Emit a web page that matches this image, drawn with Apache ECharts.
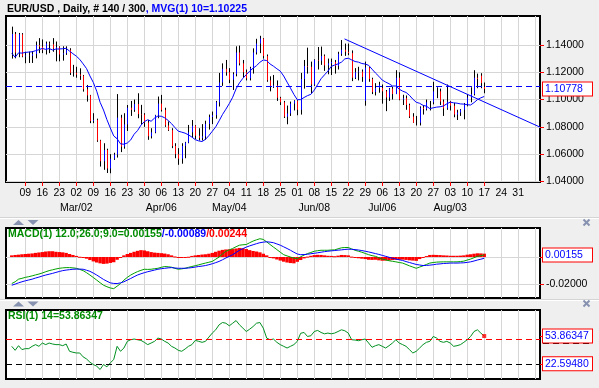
<!DOCTYPE html>
<html><head><meta charset="utf-8">
<script src="https://cdn.jsdelivr.net/npm/echarts@6/dist/echarts.min.js"></script>
<style>html,body{margin:0;padding:0;background:#efefef;}#c{width:599px;height:388px;}</style>
</head><body><div id="c"></div>
<script>
// ---- data (trading-day index 0 = Tue 03 Feb 2015) ----
const open = [1.1344,1.1481,1.1344,1.1478,1.1316,1.1323,1.1321,1.1333,1.1399,1.1388,
1.1362,1.1410,1.1405,1.1374,1.1383,1.1330,1.1339,1.1364,1.1195,1.1196,
1.1183,1.1174,1.1075,1.1030,1.0843,1.0851,1.0700,1.0548,1.0630,1.0495,
1.0567,1.0597,1.0867,1.0655,1.0818,1.0940,1.0924,1.0967,1.0893,1.0890,
1.0832,1.0731,1.0760,1.0885,1.0970,1.0924,1.0810,1.0776,1.0660,1.0600,
1.0567,1.0660,1.0685,1.0760,1.0808,1.0735,1.0720,1.0730,1.0822,1.0872,
1.0885,1.0980,1.1125,1.1225,1.1200,1.1145,1.1186,1.1345,1.1265,1.1200,
1.1155,1.1230,1.1345,1.1410,1.1447,1.1318,1.1141,1.1092,1.1104,1.1013,
1.0980,1.0874,1.0898,1.0970,1.0990,1.0925,1.1150,1.1245,1.1240,1.1110,
1.1290,1.1285,1.1320,1.1250,1.1265,1.1275,1.1245,1.1335,1.1365,1.1350,
1.1340,1.1160,1.1200,1.1205,1.0990,1.1235,1.1150,1.1055,1.1085,1.1085,
1.1060,1.1015,1.1080,1.1040,1.1160,1.1000,1.1010,1.0960,1.0875,1.0830,
1.0830,1.0940,1.0930,1.0980,1.0980,1.1060,1.1060,1.0985,1.0935,1.0985,
1.0955,1.0890,1.0905,1.0925,1.0965,1.1015,1.1040,1.1160,1.1175,1.1092];
const high = [1.1534,1.1495,1.1488,1.1487,1.1350,1.1350,1.1355,1.1425,1.1450,1.1440,
1.1425,1.1425,1.1450,1.1425,1.1390,1.1390,1.1390,1.1376,1.1254,1.1240,
1.1229,1.1180,1.1107,1.1034,1.0900,1.0860,1.0705,1.0680,1.0640,1.0600,
1.0610,1.1040,1.0888,1.0900,1.0960,1.0990,1.1000,1.1046,1.0961,1.0900,
1.0851,1.0790,1.0888,1.1022,1.1034,1.0940,1.0840,1.0790,1.0680,1.0644,
1.0680,1.0690,1.0814,1.0850,1.0812,1.0790,1.0820,1.0845,1.0890,1.0912,
1.0990,1.1195,1.1265,1.1290,1.1230,1.1200,1.1390,1.1395,1.1290,1.1220,
1.1240,1.1375,1.1445,1.1467,1.1450,1.1330,1.1170,1.1180,1.1140,1.1020,
1.0990,1.0956,1.0985,1.0995,1.0995,1.1195,1.1290,1.1380,1.1278,1.1295,
1.1385,1.1388,1.1330,1.1300,1.1300,1.1290,1.1350,1.1436,1.1410,1.1410,
1.1360,1.1230,1.1240,1.1220,1.1278,1.1240,1.1160,1.1120,1.1130,1.1110,
1.1070,1.1085,1.1095,1.1215,1.1200,1.1035,1.1030,1.0970,1.0900,1.0880,
1.0950,1.0960,1.1000,1.0990,1.1130,1.1090,1.1080,1.1000,1.1110,1.0990,
1.0975,1.0925,1.0930,1.0975,1.1040,1.1090,1.1215,1.1190,1.1193,1.1125];
const low = [1.1300,1.1302,1.1310,1.1310,1.1266,1.1268,1.1268,1.1302,1.1340,1.1340,
1.1330,1.1340,1.1350,1.1280,1.1280,1.1285,1.1327,1.1180,1.1168,1.1160,
1.1144,1.1058,1.0985,1.0827,1.0827,1.0690,1.0509,1.0485,1.0462,1.0460,
1.0558,1.0575,1.0615,1.0640,1.0770,1.0880,1.0910,1.0863,1.0814,1.0800,
1.0705,1.0715,1.0753,1.0863,1.0912,1.0800,1.0770,1.0644,1.0570,1.0522,
1.0530,1.0570,1.0680,1.0720,1.0710,1.0700,1.0700,1.0705,1.0780,1.0820,
1.0860,1.0949,1.1100,1.1175,1.1120,1.1070,1.1170,1.1250,1.1160,1.1140,
1.1140,1.1190,1.1330,1.1340,1.1300,1.1130,1.1060,1.1085,1.0990,1.0960,
1.0865,1.0819,1.0880,1.0920,1.0885,1.0890,1.1080,1.1190,1.1046,1.1100,
1.1220,1.1254,1.1210,1.1185,1.1180,1.1190,1.1220,1.1320,1.1320,1.1325,
1.1135,1.1150,1.1140,1.1130,1.0955,1.1130,1.1040,1.1030,1.1050,1.0970,
1.0915,1.0990,1.1000,1.1040,1.0995,1.0960,1.0925,1.0865,1.0830,1.0810,
1.0810,1.0890,1.0920,1.0920,1.0965,1.1010,1.0960,1.0880,1.0925,1.0920,
1.0870,1.0850,1.0880,1.0855,1.0950,1.0980,1.1030,1.1083,1.1083,1.1046];
const close = [1.1481,1.1344,1.1478,1.1316,1.1323,1.1321,1.1333,1.1399,1.1388,1.1362,
1.1410,1.1405,1.1374,1.1383,1.1330,1.1339,1.1364,1.1195,1.1196,1.1183,
1.1174,1.1075,1.1030,1.0843,1.0851,1.0700,1.0548,1.0630,1.0495,1.0567,
1.0597,1.0867,1.0655,1.0818,1.0940,1.0924,1.0967,1.0893,1.0890,1.0832,
1.0731,1.0760,1.0885,1.0970,1.0924,1.0810,1.0776,1.0660,1.0600,1.0567,
1.0660,1.0685,1.0760,1.0808,1.0735,1.0720,1.0730,1.0822,1.0872,1.0885,
1.0980,1.1125,1.1225,1.1200,1.1145,1.1186,1.1345,1.1265,1.1200,1.1155,
1.1230,1.1345,1.1410,1.1447,1.1318,1.1141,1.1092,1.1104,1.1013,1.0980,
1.0874,1.0898,1.0970,1.0990,1.0925,1.1150,1.1245,1.1240,1.1110,1.1290,
1.1285,1.1320,1.1250,1.1265,1.1275,1.1245,1.1335,1.1365,1.1350,1.1340,
1.1160,1.1200,1.1205,1.1165,1.1235,1.1150,1.1055,1.1085,1.1110,1.1060,
1.1015,1.1080,1.1040,1.1160,1.1000,1.1010,1.0960,1.0875,1.0830,1.0830,
1.0940,1.0930,1.0980,1.0980,1.1060,1.1060,1.0985,1.0935,1.0985,1.0955,
1.0890,1.0905,1.0925,1.0965,1.1015,1.1040,1.1160,1.1150,1.1120,1.10778];
const mvg10 = [1.1339,1.1310,1.1342,1.1340,1.1345,1.1348,1.1350,1.1358,1.1365,1.13745,
1.13674,1.13735,1.13631,1.13698,1.13705,1.13723,1.13754,1.1355,1.13358,1.13179,
1.12943,1.12613,1.12269,1.11729,1.1125,1.10611,1.09795,1.0923,1.08529,1.07913,
1.07336,1.07128,1.06753,1.06728,1.06817,1.07041,1.0746,1.07723,1.08118,1.08383,
1.08517,1.0841,1.0864,1.08792,1.08776,1.08662,1.08471,1.08238,1.07948,1.07683,
1.07612,1.07537,1.07412,1.0725,1.07061,1.06971,1.06925,1.07087,1.07359,1.07677,
1.07997,1.08437,1.08902,1.09294,1.09704,1.1017,1.10785,1.11228,1.11556,1.11826,
1.12076,1.12296,1.12481,1.12728,1.12901,1.12856,1.12603,1.12442,1.12255,1.1208,
1.11724,1.11277,1.10837,1.1038,1.09987,1.09996,1.10149,1.10285,1.10382,1.10692,
1.11103,1.11525,1.11805,1.1208,1.1243,1.12525,1.12615,1.1274,1.1298,1.1303,
1.12905,1.12785,1.1274,1.1264,1.126,1.12505,1.12225,1.11945,1.11705,1.11425,
1.1128,1.1116,1.10995,1.1099,1.10755,1.10615,1.1052,1.1031,1.1003,1.098,
1.09725,1.09575,1.09515,1.09335,1.09395,1.09445,1.0947,1.0953,1.09685,1.0981,
1.0976,1.09735,1.0968,1.09665,1.0962,1.096,1.09775,1.0999,1.10125,1.10225];
const macd = [-0.0193,-0.0180,-0.0161,-0.0155,-0.0148,-0.0143,-0.0137,-0.0130,-0.0124,-0.0116,
-0.0107,-0.0099,-0.0093,-0.0087,-0.0082,-0.0079,-0.0077,-0.0077,-0.0079,-0.0082,
-0.0090,-0.0099,-0.0114,-0.0131,-0.0149,-0.0168,-0.0187,-0.0205,-0.0216,-0.0225,
-0.0230,-0.0212,-0.0193,-0.0168,-0.0148,-0.0131,-0.0118,-0.0106,-0.0097,-0.0089,
-0.0090,-0.0089,-0.0085,-0.0082,-0.0075,-0.0069,-0.0071,-0.0074,-0.0082,-0.0089,
-0.0086,-0.0082,-0.0075,-0.0069,-0.0063,-0.0057,-0.0050,-0.0044,-0.0038,-0.0032,
-0.0016,0.0000,0.0022,0.0042,0.0052,0.0062,0.0075,0.0086,0.0089,0.0091,
0.0104,0.0116,0.0125,0.0133,0.0128,0.0110,0.0091,0.0072,0.0054,0.0035,
0.0017,0.0008,0.0000,-0.0008,-0.0012,0.0002,0.0014,0.0025,0.0033,0.0042,
0.0046,0.0049,0.0049,0.0049,0.0051,0.0052,0.0060,0.0067,0.0069,0.0069,
0.0059,0.0049,0.0042,0.0035,0.0026,0.0017,0.0010,0.0005,-0.0005,-0.0015,
-0.0021,-0.0027,-0.0031,-0.0035,-0.0040,-0.0044,-0.0054,-0.0064,-0.0073,-0.0082,
-0.0073,-0.0064,-0.0054,-0.0044,-0.0040,-0.0037,-0.0036,-0.0035,-0.0035,-0.0035,
-0.0035,-0.0035,-0.0033,-0.0030,-0.0022,-0.0015,-0.0005,0.0005,0.0010,0.00155];
const signal = [-0.0205,-0.0197,-0.0188,-0.0180,-0.0173,-0.0167,-0.0161,-0.0153,-0.0146,-0.0138,
-0.0131,-0.0125,-0.0119,-0.0112,-0.0105,-0.0099,-0.0095,-0.0092,-0.0089,-0.0088,
-0.0088,-0.0089,-0.0096,-0.0104,-0.0117,-0.0131,-0.0147,-0.0163,-0.0176,-0.0188,
-0.0192,-0.0193,-0.0188,-0.0180,-0.0168,-0.0156,-0.0143,-0.0131,-0.0122,-0.0114,
-0.0107,-0.0101,-0.0095,-0.0089,-0.0085,-0.0082,-0.0079,-0.0077,-0.0080,-0.0082,
-0.0082,-0.0082,-0.0080,-0.0077,-0.0073,-0.0069,-0.0066,-0.0062,-0.0056,-0.0049,
-0.0041,-0.0032,-0.0020,-0.0007,0.0005,0.0017,0.0033,0.0049,0.0061,0.0072,
0.0081,0.0089,0.0097,0.0104,0.0108,0.0111,0.0108,0.0104,0.0095,0.0086,
0.0074,0.0062,0.0049,0.0035,0.0022,0.0017,0.0018,0.0020,0.0024,0.0027,
0.0031,0.0035,0.0039,0.0042,0.0045,0.0047,0.0050,0.0052,0.0055,0.0057,
0.0056,0.0054,0.0051,0.0047,0.0042,0.0037,0.0031,0.0025,0.0019,0.0012,
0.0005,-0.0002,-0.0009,-0.0015,-0.0020,-0.0025,-0.0033,-0.0040,-0.0047,-0.0054,
-0.0058,-0.0062,-0.0061,-0.0059,-0.0056,-0.0052,-0.0050,-0.0047,-0.0046,-0.0044,
-0.0044,-0.0044,-0.0043,-0.0042,-0.0039,-0.0035,-0.0029,-0.0022,-0.0016,-0.00089];
const hist = [0.0012,0.0015,0.0017,0.0020,0.0022,0.0024,0.0026,0.0030,0.0033,0.0036,
0.0040,0.0042,0.0042,0.0038,0.0036,0.0034,0.0030,0.0022,0.0015,0.0008,
0.0002,-0.0004,-0.0012,-0.0022,-0.0032,-0.0040,-0.0046,-0.0050,-0.0048,-0.0043,
-0.0038,-0.0020,-0.0005,0.0012,0.0022,0.0030,0.0038,0.0045,0.0050,0.0048,
0.0042,0.0036,0.0032,0.0030,0.0028,0.0025,0.0020,0.0012,0.0004,-0.0004,
-0.0006,-0.0004,0.0002,0.0008,0.0012,0.0015,0.0018,0.0020,0.0024,0.0030,
0.0038,0.0046,0.0052,0.0055,0.0056,0.0058,0.0062,0.0066,0.0064,0.0058,
0.0050,0.0044,0.0040,0.0034,0.0024,0.0012,-0.0002,-0.0010,-0.0018,-0.0026,
-0.0034,-0.0040,-0.0044,-0.0046,-0.0035,-0.0022,-0.0010,0.0003,0.0009,0.0014,
0.0016,0.0015,0.0012,0.0009,0.0008,0.0006,0.0010,0.0015,0.0014,0.0012,
0.0003,-0.0005,-0.0009,-0.0012,-0.0015,-0.0020,-0.0021,-0.0020,-0.0024,-0.0027,
-0.0026,-0.0025,-0.0022,-0.0020,-0.0020,-0.0019,-0.0021,-0.0024,-0.0026,-0.0028,
-0.0015,-0.0002,0.0007,0.0015,0.0016,0.0015,0.0014,0.0012,0.0011,0.0009,
0.0009,0.0009,0.0010,0.0012,0.0017,0.0020,0.0024,0.0027,0.0026,0.00244];
const rsi = [42.3,37.8,43.0,38.6,39.7,39.7,42.3,44.2,42.3,46.0,
44.2,46.0,44.9,44.2,44.2,43.0,44.9,36.7,35.6,34.8,
34.8,30.4,28.1,24.4,21.8,19.9,16.2,21.8,19.2,23.7,
27.4,42.3,36.7,40.4,47.9,49.7,50.5,49.7,49.0,46.8,
44.2,46.0,47.9,51.6,50.5,47.9,46.0,42.3,40.4,37.8,
36.7,39.3,42.3,44.2,49.0,47.9,46.8,47.9,52.7,57.2,
60.9,66.5,69.1,68.3,65.4,68.3,71.3,66.5,62.8,59.0,
61.6,64.6,68.3,69.1,62.8,51.6,49.7,50.5,46.8,44.2,
42.3,40.4,42.3,44.2,47.9,57.0,57.9,53.4,54.2,59.0,
60.2,57.9,56.4,57.2,56.4,57.2,59.0,60.9,59.8,57.2,
49.7,49.4,48.6,49.7,50.5,46.0,41.2,43.0,44.2,42.3,
40.4,43.0,46.0,49.7,46.0,44.2,42.3,38.6,34.8,36.7,
40.4,44.2,46.8,47.9,53.4,51.6,47.9,46.8,47.9,46.0,
42.3,43.0,44.2,46.8,49.7,53.4,59.0,60.9,57.2,53.86347];

// Mondays (trading-day index) and their tick labels (Feb 09 .. Aug 31)
const mondayIdx = [4,9,14,19,24,29,34,39,44,49,54,59,64,69,74,79,84,89,94,99,104,109,114,119,124,129,134,139,144,149,154];
const mondayLabels = ['09','16','23','02','09','16','23','30','06','13','20','27','04','11','18','25','01','08','15','22','29','06','13','20','27','03','10','17','24','31'];
const monthIdx = [19,44,64,89,109,129];
const monthLabels = ['Mar/02','Apr/06','May/04','Jun/08','Jul/06','Aug/03'];
const tickedMondays = [4,9,14,19,24,29,34,39,44,49,54,59,64,69,74,79,84,89,94,99,104,109,114,119,124,129,134,139];
const priceTicks = [1.04,1.06,1.08,1.10,1.12,1.14];
const lastClose = 1.10778;
const trendLine = [[97.9,1.1444],[155.41,1.0798]];
const macdTicks = [-0.02,0];
const macdLast = 0.00155;
const rsiLast = 53.86347, rsiLevel = 22.5948, rsiMid = 50;
</script>
<script>
const FONT = "'Liberation Sans', Arial, sans-serif";
const FS = 10.5;
const XMIN = -1.69, XMAX = 155.41;
const chart = echarts.init(document.getElementById('c'), null, {renderer:'canvas'});
function dayText(v){ const k = mondayIdx.indexOf(Math.round(v)); return k>=0 && k<mondayLabels.length ? mondayLabels[k] : ''; }
const ohlcData = open.map((o,i)=>[i,o,high[i],low[i],close[i]]);
const xBase = {type:'value', min:XMIN, max:XMAX, position:'bottom', axisLine:{show:false, onZero:false}};
const gridLine = {show:true, lineStyle:{color:'#d6d6d6', width:1}};
const txt = {fontFamily:FONT, fontSize:FS, color:'#000'};
const boxRich = {
  n:{fontFamily:FONT, fontSize:FS, color:'#000', padding:[0,0,0,3]},
  box:{fontFamily:FONT, fontSize:FS, color:'#0000ff', backgroundColor:'#fff', borderColor:'#ff0000', borderWidth:1, padding:[1,3,1,2], width:44, lineHeight:11}
};
const yBase = {type:'value', position:'right', axisLine:{show:false, onZero:false}};
const gridBox = {left:6, width:534, show:true, backgroundColor:'#fff', borderColor:'#000', borderWidth:2};
const option = {
  animation:false,
  backgroundColor:'#efefef',
  textStyle:{fontFamily:FONT},
  title:[
    {left:7, top:4, padding:0, text:'{a|EUR/USD , Daily, # 140 / 300}{b|, MVG(1) 10=1.10225}',
     textStyle:{rich:{a:{fontFamily:FONT,fontSize:FS,color:'#000'}, b:{fontFamily:FONT,fontSize:FS,color:'#0000ff'}}}},
    {left:8, top:229, padding:0, text:'{g|MACD(1) 12.0;26.0;9.0=0.00155}{b|/-0.00089}{r|/0.00244}',
     textStyle:{rich:{g:{fontFamily:FONT,fontSize:FS,color:'#008c00'}, b:{fontFamily:FONT,fontSize:FS,color:'#0000ff'}, r:{fontFamily:FONT,fontSize:FS,color:'#ff0000'}}}},
    {left:8, top:311, padding:0, text:'{g|RSI(1) 14=53.86347}',
     textStyle:{rich:{g:{fontFamily:FONT,fontSize:FS,color:'#008c00'}}}}
  ],
  grid:[
    Object.assign({}, gridBox, {top:16, height:166}),
    Object.assign({}, gridBox, {top:228, height:70}),
    Object.assign({}, gridBox, {top:310, height:69})
  ],
  xAxis:[
    Object.assign({}, xBase, {gridIndex:0, axisTick:{show:false, customValues:mondayIdx},
      axisLabel:Object.assign({customValues:mondayIdx, margin:6, formatter:dayText}, txt), splitLine:gridLine}),
    Object.assign({}, xBase, {gridIndex:0, offset:15, axisTick:{show:false, customValues:monthIdx},
      axisLabel:Object.assign({customValues:monthIdx, margin:6, formatter:v=>monthLabels[monthIdx.indexOf(Math.round(v))]||''}, txt), splitLine:{show:false}}),
    Object.assign({}, xBase, {gridIndex:0, axisTick:{show:true, inside:false, length:4, customValues:tickedMondays, lineStyle:{color:'#ff0000'}},
      axisLabel:{show:false}, splitLine:{show:false}}),
    Object.assign({}, xBase, {gridIndex:1, axisTick:{show:false, customValues:mondayIdx}, axisLabel:{show:false}, splitLine:gridLine}),
    Object.assign({}, xBase, {gridIndex:2, axisTick:{show:false, customValues:mondayIdx}, axisLabel:{show:false}, splitLine:gridLine})
  ],
  yAxis:[
    Object.assign({}, yBase, {gridIndex:0, min:1.0396, max:1.1612,
     axisTick:{show:true, inside:false, length:4, customValues:priceTicks, lineStyle:{color:'#ff0000'}},
     axisLabel:{customValues:priceTicks.concat([lastClose]), margin:3, rich:boxRich,
       formatter:v=> Math.abs(v-lastClose)<1e-7 ? '{box|'+lastClose.toFixed(5)+'}' : '{n|'+v.toFixed(5)+'}'},
     splitLine:gridLine}),
    Object.assign({}, yBase, {gridIndex:1, min:-0.0298, max:0.0211,
     axisTick:{show:true, inside:false, length:4, customValues:macdTicks, lineStyle:{color:'#ff0000'}},
     axisLabel:{customValues:[-0.02, macdLast], margin:3, rich:boxRich,
       formatter:v=> Math.abs(v-macdLast)<1e-9 ? '{box|'+macdLast.toFixed(5)+'}' : '{n|'+v.toFixed(5)+'}'},
     splitLine:gridLine}),
    Object.assign({}, yBase, {gridIndex:2, min:5.5, max:83.2,
     axisTick:{show:true, inside:false, length:4, customValues:[rsiLast, rsiLevel], lineStyle:{color:'#ff0000'}},
     axisLabel:{customValues:[rsiLast, rsiLevel], margin:3, rich:boxRich,
       formatter:v=> '{box|'+v.toFixed(5)+'}'},
     splitLine:{show:false}})
  ],
  series:[
    {type:'custom', name:'ohlc', xAxisIndex:0, yAxisIndex:0, clip:true, data:ohlcData,
     encode:{x:0, y:[1,2,3,4]},
     renderItem:function(params, api){
       const i=api.value(0), o=api.value(1), h=api.value(2), l=api.value(3), c=api.value(4);
       const pH=api.coord([i,h]), pL=api.coord([i,l]), pO=api.coord([i,o]), pC=api.coord([i,c]);
       const x=Math.round(pH[0])+0.5;
       const ch=[{type:'line', shape:{x1:x,y1:pH[1],x2:x,y2:pL[1]}, style:{stroke:'#000', lineWidth:1}}];
       if (c!==o) ch.push({type:'line', shape:{x1:x,y1:pO[1],x2:x,y2:pC[1]}, style:{stroke:c>o?'#0000ff':'#ff0000', lineWidth:1}});
       return {type:'group', children:ch};
     }},
    {type:'line', name:'MVG', xAxisIndex:0, yAxisIndex:0, data:mvg10.map((v,i)=>[i,v]), symbol:'none',
     lineStyle:{color:'#0000ff', width:1}, z:3,
     markLine:{silent:true, symbol:['none','none'], label:{show:false},
       lineStyle:{color:'#0000ff', width:1, type:[6,4]}, data:[{yAxis:lastClose}]}},
    {type:'line', name:'trend', xAxisIndex:0, yAxisIndex:0, data:trendLine, symbol:'none',
     lineStyle:{color:'#0000ff', width:1}, z:3},
    {type:'custom', name:'hist', xAxisIndex:3, yAxisIndex:1, clip:true, data:hist.map((v,i)=>[i,v]),
     encode:{x:0, y:1},
     renderItem:function(params, api){
       const i=api.value(0), v=api.value(1);
       const p0=api.coord([i,0]), p1=api.coord([i,v]);
       const w=api.size([1,0])[0];
       return {type:'rect', shape:{x:p0[0]-w/2, y:Math.min(p0[1],p1[1]), width:w, height:Math.max(1,Math.abs(p1[1]-p0[1]))}, style:{fill:'#ff0000'}};
     }},
    {type:'line', name:'MACD', xAxisIndex:3, yAxisIndex:1, data:macd.map((v,i)=>[i,v]), symbol:'none',
     lineStyle:{color:'#00a000', width:1}, z:3},
    {type:'line', name:'Signal', xAxisIndex:3, yAxisIndex:1, data:signal.map((v,i)=>[i,v]), symbol:'none',
     lineStyle:{color:'#0000ff', width:1}, z:3},
    {type:'line', name:'RSI', xAxisIndex:4, yAxisIndex:2, data:rsi.map((v,i)=>[i,v]), symbol:'none',
     lineStyle:{color:'#009020', width:1}, z:3,
     markLine:{silent:true, symbol:['none','none'], label:{show:false},
       data:[{yAxis:rsiMid, lineStyle:{color:'#ff0000', width:1, type:[6,4]}},
             {yAxis:rsiLevel, lineStyle:{color:'#000', width:1, type:[6,4]}}]}},
    {type:'scatter', xAxisIndex:4, yAxisIndex:2, data:[[rsi.length-1, rsi[rsi.length-1]]], symbol:'rect', symbolSize:4,
     itemStyle:{color:'#ff0000'}, z:4}
  ],
  graphic:[
    {type:'line', shape:{x1:0,y1:217.5,x2:599,y2:217.5}, style:{stroke:'#d4d4d4', lineWidth:1}},
    {type:'line', shape:{x1:0,y1:218.5,x2:599,y2:218.5}, style:{stroke:'#ffffff', lineWidth:1}},
    {type:'line', shape:{x1:0,y1:299.5,x2:599,y2:299.5}, style:{stroke:'#d4d4d4', lineWidth:1}},
    {type:'line', shape:{x1:0,y1:300.5,x2:599,y2:300.5}, style:{stroke:'#ffffff', lineWidth:1}},
    {type:'polygon', shape:{points:[[13,225],[18.5,220],[24,225]]}, style:{fill:'#8792b0'}},
    {type:'polygon', shape:{points:[[27.5,220],[38.5,220],[33,225]]}, style:{fill:'#8792b0'}},
    {type:'polygon', shape:{points:[[13,306.5],[18.5,301.5],[24,306.5]]}, style:{fill:'#8792b0'}},
    {type:'polygon', shape:{points:[[27.5,301.5],[38.5,301.5],[33,306.5]]}, style:{fill:'#8792b0'}},
    {type:'line', shape:{x1:583.5,y1:219.5,x2:589.5,y2:225.5}, style:{stroke:'#8792b0', lineWidth:2}},
    {type:'line', shape:{x1:589.5,y1:219.5,x2:583.5,y2:225.5}, style:{stroke:'#8792b0', lineWidth:2}},
    {type:'line', shape:{x1:583.5,y1:300.5,x2:589.5,y2:306.5}, style:{stroke:'#8792b0', lineWidth:2}},
    {type:'line', shape:{x1:589.5,y1:300.5,x2:583.5,y2:306.5}, style:{stroke:'#8792b0', lineWidth:2}},
    {type:'line', shape:{x1:543,y1:343.5,x2:590,y2:343.5}, style:{stroke:'#000', lineWidth:1, lineDash:[6,4]}}
  ]
};
chart.setOption(option);
</script>
</body></html>
